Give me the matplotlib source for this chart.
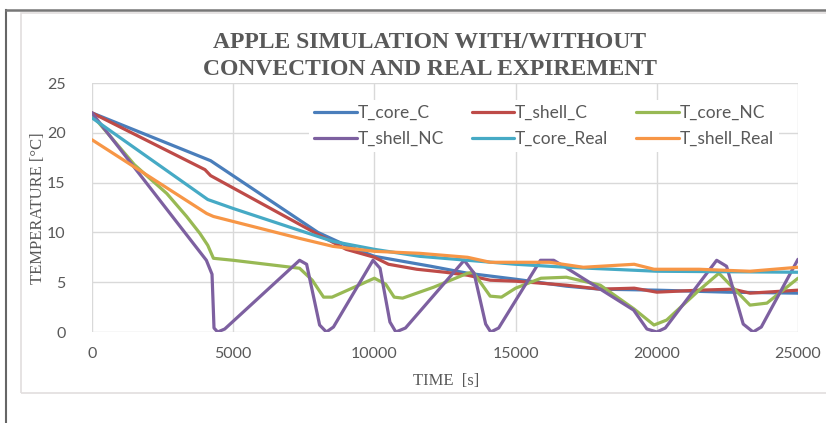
import matplotlib
matplotlib.use("Agg")
import matplotlib.pyplot as plt
from matplotlib.patches import Rectangle
from matplotlib.lines import Line2D

# Time [s] and temperature [°C] for each series
t_core_c = [0, 4200, 8000, 9000, 10000, 11000, 12000, 13300, 15000, 16800, 18000, 20000, 22500, 25000]
T_core_C = [22.0, 17.2, 10.0, 8.7, 7.6, 7.1, 6.6, 5.9, 5.3, 4.6, 4.3, 4.2, 4.0, 3.9]

t_shell_c = [0, 4000, 4200, 8000, 9000, 10000, 10500, 11500, 12500, 13300, 14100, 15000,
             16800, 18000, 19200, 20000, 21500, 22700, 23300, 25000]
T_shell_C = [22.0, 16.3, 15.7, 9.8, 8.3, 7.5, 6.8, 6.3, 6.0, 5.7, 5.2, 5.1,
             4.7, 4.3, 4.4, 4.0, 4.2, 4.3, 3.9, 4.2]

t_core_nc = [0, 1500, 2650, 3350, 3820, 4100, 4300, 5000, 7350, 7800, 8200, 8500, 10000,
             10400, 10700, 11000, 12100, 13300, 13500, 14100, 14500, 15000, 15900, 16800,
             18000, 19200, 19900, 20350, 21500, 22200, 23300, 23900, 25000]
T_core_NC = [21.8, 16.8, 13.9, 11.6, 9.9, 8.7, 7.4, 7.2, 6.4, 5.2, 3.5, 3.5, 5.4,
             4.8, 3.5, 3.4, 4.5, 5.9, 6.0, 3.6, 3.5, 4.4, 5.4, 5.5,
             4.7, 2.3, 0.7, 1.2, 4.2, 5.9, 2.7, 2.9, 5.4]

t_shell_nc = [0, 4050, 4250, 4300, 4320, 4450, 4700, 7350, 7600, 8060, 8300, 8550, 9950,
              10200, 10550, 10760, 11100, 13180, 13530, 13940, 14120, 14400, 15880, 16350,
              16820, 19180, 19650, 20000, 20300, 22120, 22470, 23060, 23410, 23700, 25000]
T_shell_NC = [22.0, 7.2, 5.8, 2.0, 0.4, 0.0, 0.3, 7.2, 6.8, 0.7, 0.0, 0.5, 7.2,
              6.4, 1.0, 0.0, 0.4, 7.2, 5.9, 0.8, 0.0, 0.4, 7.2, 7.2,
              6.4, 2.2, 0.3, 0.0, 0.4, 7.2, 6.6, 0.8, 0.0, 0.5, 7.3]

t_core_real = [0, 4100, 5000, 7350, 8530, 10000, 11600, 13300, 15000, 16800, 20000, 25000]
T_core_Real = [21.5, 13.3, 12.4, 10.2, 9.1, 8.3, 7.6, 7.2, 6.8, 6.5, 6.1, 6.0]

t_shell_real = [0, 4060, 4300, 7350, 8530, 10000, 11600, 13300, 14100, 15000, 16200,
                17400, 19200, 19900, 21500, 23300, 25000]
T_shell_Real = [19.3, 11.9, 11.6, 9.4, 8.6, 8.1, 7.9, 7.5, 7.0, 7.0, 7.0,
                6.5, 6.8, 6.3, 6.3, 6.1, 6.5]

x_ticks = [0, 5000, 10000, 15000, 20000, 25000]
y_ticks = [0, 5, 10, 15, 20, 25]

series = [
    ("T_core_C", t_core_c, T_core_C, "#4A7EBB"),
    ("T_shell_C", t_shell_c, T_shell_C, "#BE4B48"),
    ("T_core_NC", t_core_nc, T_core_NC, "#98B954"),
    ("T_shell_NC", t_shell_nc, T_shell_NC, "#7D60A0"),
    ("T_core_Real", t_core_real, T_core_Real, "#46AAC5"),
    ("T_shell_Real", t_shell_real, T_shell_Real, "#F79646"),
]

W, H = 826, 423
fig = plt.figure(figsize=(W / 100, H / 100), dpi=100)
fig.patch.set_facecolor("white")

# outer page frame and the light chart-area frame
fig.add_artist(Line2D([5.5 / W, 5.5 / W], [0, 1 - 10 / H], color="#666666", lw=1.5,
                      transform=fig.transFigure))
fig.add_artist(Line2D([5.5 / W, 1], [1 - 10 / H, 1 - 10 / H], color="#777777", lw=1.8,
                      transform=fig.transFigure))
fig.add_artist(Rectangle((20.5 / W, 1 - 393 / H), 1, (393 - 13) / H, fill=False,
                         edgecolor="#E2DEDE", lw=1.2, transform=fig.transFigure))

ax = fig.add_axes([92 / W, 1 - 332 / H, (798 - 92) / W, (332 - 83) / H])
ax.set_facecolor("none")

handles = {}
for name, t, v, c in series:
    (ln,) = ax.plot(t, v, color=c, lw=2.3, solid_joinstyle="round",
                    solid_capstyle="round", label=name, zorder=3)
    handles[name] = ln

ax.set_xlim(0, 25000)
ax.set_ylim(0, 25)
ax.set_xticks(x_ticks)
ax.set_yticks(y_ticks)
ax.grid(True, color="#D9D9D9", lw=1.0)
ax.set_axisbelow(True)
for s in ax.spines.values():
    s.set_visible(False)
ax.tick_params(length=0, labelsize=11.5, labelcolor="#595959", pad=11)
for lab in ax.get_xticklabels() + ax.get_yticklabels():
    lab.set_family("Lato")
ax.tick_params(axis="y", pad=19)

order = ["T_core_C", "T_shell_NC", "T_shell_C", "T_core_Real", "T_core_NC", "T_shell_Real"]
leg = ax.legend([handles[n] for n in order], order, ncol=3, loc="upper left",
                bbox_to_anchor=(0.295, 0.968), frameon=True, fancybox=False,
                edgecolor="none", facecolor="white", framealpha=1.0,
                prop={"family": "Lato", "size": 12.5}, handlelength=2.45,
                handletextpad=0.05, columnspacing=1.6, labelspacing=0.6,
                borderpad=0.3)
for txt in leg.get_texts():
    txt.set_color("#595959")
leg.set_zorder(4)

fig.text(430 / W, 1 - 56 / H, "APPLE SIMULATION WITH/WITHOUT\nCONVECTION AND REAL EXPIREMENT",
         ha="center", va="center", family="Liberation Serif", weight="bold",
         size=17, color="#595959", linespacing=1.42)
fig.text(446 / W, 1 - 381 / H, "TIME  [s]", ha="center", va="center",
         family="Liberation Serif", size=12, color="#595959")
fig.text(38 / W, 1 - 208 / H, "TEMPERATURE [°C]", ha="center", va="center",
         rotation=90, family="Liberation Serif", size=12, color="#595959")

fig.savefig("out.png", dpi=100)
